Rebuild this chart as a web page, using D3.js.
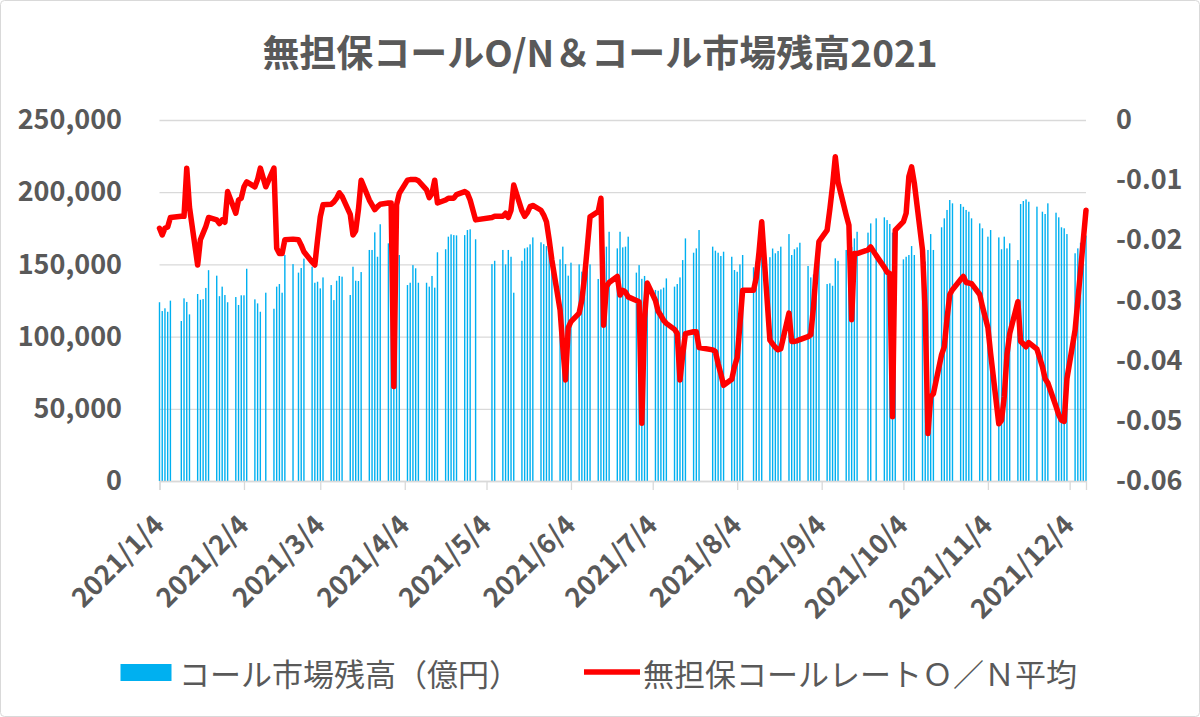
<!DOCTYPE html>
<html>
<head>
<meta charset="utf-8">
<script src="https://cdn.jsdelivr.net/npm/d3@7"></script>
<style>
  body { margin: 0; background: #fff; }
  text { font-family: "Noto Sans CJK JP", "Noto Sans", sans-serif; fill: #595959; }
</style>
</head>
<body>
<div id="chart"></div>
<script>
// business days of 2021 shown on the chart (M/D)
const days = [
  "1/4","1/5","1/6","1/7","1/8","1/12","1/13","1/14","1/15","1/18","1/19","1/20","1/21","1/22","1/25","1/26","1/27","1/28","1/29",
  "2/1","2/2","2/3","2/4","2/5","2/8","2/9","2/10","2/12","2/15","2/16","2/17","2/18","2/19","2/22","2/24","2/25","2/26",
  "3/1","3/2","3/3","3/4","3/5","3/8","3/9","3/10","3/11","3/12","3/15","3/16","3/17","3/18","3/19","3/22","3/23","3/24","3/25","3/26","3/29","3/30","3/31",
  "4/1","4/2","4/5","4/6","4/7","4/8","4/9","4/12","4/13","4/14","4/15","4/16","4/19","4/20","4/21","4/22","4/23","4/26","4/27","4/28","4/30",
  "5/6","5/7","5/10","5/11","5/12","5/13","5/14","5/17","5/18","5/19","5/20","5/21","5/24","5/25","5/26","5/27","5/28","5/31",
  "6/1","6/2","6/3","6/4","6/7","6/8","6/9","6/10","6/11","6/14","6/15","6/16","6/17","6/18","6/21","6/22","6/23","6/24","6/25","6/28","6/29","6/30",
  "7/1","7/2","7/5","7/6","7/7","7/8","7/9","7/12","7/13","7/14","7/15","7/16","7/19","7/20","7/21","7/26","7/27","7/28","7/29","7/30",
  "8/2","8/3","8/4","8/5","8/6","8/10","8/11","8/12","8/13","8/16","8/17","8/18","8/19","8/20","8/23","8/24","8/25","8/26","8/27","8/30","8/31",
  "9/1","9/2","9/3","9/6","9/7","9/8","9/9","9/10","9/13","9/14","9/15","9/16","9/17","9/21","9/22","9/24","9/27","9/28","9/29","9/30",
  "10/1","10/4","10/5","10/6","10/7","10/8","10/11","10/12","10/13","10/14","10/15","10/18","10/19","10/20","10/21","10/22","10/25","10/26","10/27","10/28","10/29",
  "11/1","11/2","11/4","11/5","11/8","11/9","11/10","11/11","11/12","11/15","11/16","11/17","11/18","11/19","11/22","11/24","11/25","11/26","11/29","11/30",
  "12/1","12/2","12/3","12/6","12/7","12/8","12/9","12/10"
];

// コール市場残高（億円）
const balance = [
  123800,117700,119600,117200,124900,110800,126500,124000,115400,129500,125500,126000,133700,146000,142200,128000,134600,128800,123800,
  127400,121900,128600,128600,147000,125800,123000,117200,130400,119300,134600,136400,130400,156500,150200,144300,147500,154000,
  148400,137300,138000,133400,141000,135700,125300,138700,142000,141500,128800,148400,138700,138500,144700,160000,160000,172200,155300,177800,164600,150000,125000,
  140000,156500,135700,137300,149500,147300,137300,137300,134600,142000,133900,158400,160500,169200,170800,170300,170100,170300,173800,174300,167400,
  150200,152500,160000,150000,160000,155300,130400,152500,161100,161800,163900,168700,165300,164000,162700,158000,156000,153500,
  162300,150200,142200,151200,150000,145000,152000,158000,150000,139900,148000,155000,162300,172600,161100,172600,161800,162300,169200,144300,149500,140000,
  142000,134600,132300,131800,132700,133900,140300,134600,136400,141000,153000,168000,158100,161100,173800,162300,159500,158100,155800,158800,
  155300,146100,144900,150000,156500,148000,152000,158000,163000,155000,161000,157700,159300,162300,171000,156500,160500,161800,165000,148900,141000,
  143000,150000,155000,136400,136900,135200,154200,152500,160000,165000,162000,168000,172600,172000,178400,181900,182600,180700,178000,172000,
  160000,153500,155300,156500,162700,156500,150000,152000,160000,171000,160000,175700,181900,187700,194600,192300,191800,189900,187700,186500,181900,
  178400,175000,169200,173800,168700,160500,169200,161100,164600,153000,191800,193900,195000,193400,190000,186500,184900,192300,185800,182600,
  175700,175000,171000,157700,161100,165000,168000,170000
];

// 無担保コールレートO/N平均（%）
const rate = [
  -0.0180,-0.0191,-0.0180,-0.0178,-0.0162,-0.0160,-0.0160,-0.0080,-0.0145,-0.0241,-0.0199,-0.0188,-0.0177,-0.0162,-0.0166,-0.0172,-0.0166,-0.0170,-0.0119,
  -0.0155,-0.0133,-0.0130,-0.0111,-0.0103,-0.0111,-0.0099,-0.0080,-0.0111,-0.0080,-0.0213,-0.0222,-0.0222,-0.0199,-0.0198,-0.0199,-0.0208,-0.0219,
  -0.0236,-0.0241,-0.0199,-0.0161,-0.0141,-0.0140,-0.0136,-0.0130,-0.0121,-0.0127,-0.0157,-0.0191,-0.0184,-0.0149,-0.0100,-0.0133,-0.0141,-0.0149,-0.0144,-0.0140,-0.0138,-0.0138,-0.0443,
  -0.0141,-0.0122,-0.0100,-0.0099,-0.0099,-0.0099,-0.0101,-0.0116,-0.0129,-0.0122,-0.0100,-0.0138,-0.0133,-0.0130,-0.0130,-0.0130,-0.0124,-0.0119,-0.0122,-0.0133,-0.0166,
  -0.0162,-0.0160,-0.0160,-0.0155,-0.0162,-0.0150,-0.0108,-0.0151,-0.0160,-0.0154,-0.0144,-0.0142,-0.0150,-0.0158,-0.0169,-0.0199,-0.0233,-0.0316,
  -0.0377,-0.0432,-0.0345,-0.0335,-0.0321,-0.0299,-0.0260,-0.0211,-0.0161,-0.0152,-0.0130,-0.0341,-0.0277,-0.0270,-0.0260,-0.0291,-0.0283,-0.0286,-0.0294,-0.0300,-0.0302,-0.0504,
  -0.0330,-0.0271,-0.0300,-0.0318,-0.0325,-0.0333,-0.0338,-0.0348,-0.0355,-0.0432,-0.0390,-0.0355,-0.0352,-0.0352,-0.0378,-0.0382,-0.0385,-0.0405,-0.0422,-0.0441,
  -0.0431,-0.0410,-0.0395,-0.0340,-0.0283,-0.0283,-0.0262,-0.0220,-0.0169,-0.0366,-0.0372,-0.0378,-0.0382,-0.0380,-0.0321,-0.0368,-0.0368,-0.0367,-0.0365,-0.0360,-0.0357,
  -0.0310,-0.0250,-0.0202,-0.0183,-0.0148,-0.0109,-0.0061,-0.0103,-0.0158,-0.0175,-0.0332,-0.0222,-0.0222,-0.0216,-0.0211,-0.0225,-0.0245,-0.0253,-0.0255,-0.0493,
  -0.0183,-0.0169,-0.0155,-0.0094,-0.0078,-0.0105,-0.0216,-0.0320,-0.0521,-0.0460,-0.0455,-0.0390,-0.0377,-0.0330,-0.0290,-0.0282,-0.0265,-0.0260,-0.0270,-0.0271,-0.0272,
  -0.0290,-0.0310,-0.0345,-0.0388,-0.0505,-0.0499,-0.0460,-0.0390,-0.0355,-0.0302,-0.0368,-0.0372,-0.0377,-0.0370,-0.0381,-0.0410,-0.0430,-0.0437,-0.0476,-0.0490,
  -0.0499,-0.0501,-0.0430,-0.0349,-0.0300,-0.0250,-0.0200,-0.0150
];

const monthTicks = ["2021/1/4","2021/2/4","2021/3/4","2021/4/4","2021/5/4","2021/6/4",
                    "2021/7/4","2021/8/4","2021/9/4","2021/10/4","2021/11/4","2021/12/4"];
const leftTicks = [0, 50000, 100000, 150000, 200000, 250000];
const rightTicks = [0, -0.01, -0.02, -0.03, -0.04, -0.05, -0.06];

const width = 1200, height = 717;
const plotLeft = 159.5, plotRight = 1086, plotTop = 120, plotBottom = 481;

const svg = d3.select("#chart").append("svg")
    .attr("width", width)
    .attr("height", height);

svg.append("rect")
    .attr("x", 0.5).attr("y", 0.5)
    .attr("width", width - 1).attr("height", height - 1)
    .attr("rx", 4)
    .attr("fill", "#fff")
    .attr("stroke", "#d9d9d9");

const dates = days.map(s => {
  const [m, d] = s.split("/").map(Number);
  return new Date(2021, m - 1, d);
});
const parseTick = d3.timeParse("%Y/%m/%d");

const x = d3.scaleTime()
    .domain([new Date(2021, 0, 4), new Date(2021, 11, 10)])
    .range([plotLeft, plotRight]);
const y = d3.scaleLinear().domain([0, 250000]).range([plotBottom, plotTop]);
const y2 = d3.scaleLinear().domain([-0.06, 0]).range([plotBottom, plotTop]);

// gridlines
svg.append("g")
    .attr("transform", `translate(${plotLeft},0)`)
    .call(d3.axisLeft(y).tickValues(leftTicks).tickSize(-(plotRight - plotLeft)).tickFormat(""))
    .call(g => g.select(".domain").remove())
    .call(g => g.selectAll("line").attr("stroke", "#d9d9d9").attr("stroke-width", 1.3));

// bars
svg.append("g")
    .selectAll("rect")
    .data(balance)
    .join("rect")
    .attr("x", (d, i) => x(dates[i]) - 0.7)
    .attr("width", 1.4)
    .attr("y", d => y(d))
    .attr("height", d => plotBottom - y(d))
    .attr("fill", "#00B0F0");

// x axis
svg.append("g")
    .attr("transform", `translate(0,${plotBottom})`)
    .call(d3.axisBottom(x)
        .tickValues(monthTicks.map(parseTick))
        .tickSize(9)
        .tickFormat((d, i) => monthTicks[i]))
    .call(g => g.select(".domain").attr("stroke", "#d9d9d9").attr("stroke-width", 1.3))
    .call(g => g.selectAll(".tick line").attr("stroke", "#d9d9d9").attr("stroke-width", 1.3))
    .call(g => g.selectAll(".tick text")
        .attr("x", 0).attr("y", 0).attr("dy", "0.35em")
        .attr("transform", "translate(-1,39) rotate(-45)")
        .attr("text-anchor", "end")
        .attr("font-size", 27)
        .attr("font-weight", "bold")
        .attr("fill", "#595959"));

// left axis
svg.append("g")
    .attr("transform", "translate(122,0)")
    .call(d3.axisLeft(y).tickValues(leftTicks).tickSize(0).tickPadding(0).tickFormat(d3.format(",")))
    .call(g => g.select(".domain").remove())
    .call(g => g.selectAll("text")
        .attr("font-size", 27).attr("font-weight", "bold").attr("fill", "#595959"));

// right axis
svg.append("g")
    .attr("transform", "translate(1116,0)")
    .call(d3.axisRight(y2).tickValues(rightTicks).tickSize(0).tickPadding(0)
        .tickFormat(d => d === 0 ? "0" : d.toFixed(2)))
    .call(g => g.select(".domain").remove())
    .call(g => g.selectAll("text")
        .attr("font-size", 27).attr("font-weight", "bold").attr("fill", "#595959"));

// rate line
const line = d3.line()
    .x((d, i) => x(dates[i]))
    .y(d => y2(d));

svg.append("path")
    .datum(rate)
    .attr("d", line)
    .attr("fill", "none")
    .attr("stroke", "#FF0000")
    .attr("stroke-width", 5.5)
    .attr("stroke-linejoin", "round")
    .attr("stroke-linecap", "round");

// title
svg.append("text")
    .attr("x", 600).attr("y", 51)
    .attr("text-anchor", "middle")
    .attr("dominant-baseline", "central")
    .attr("font-size", 37)
    .attr("font-weight", "bold")
    .text("無担保コールO/N＆コール市場残高2021");

// legend
svg.append("rect")
    .attr("x", 120.5).attr("y", 664)
    .attr("width", 51).attr("height", 17)
    .attr("fill", "#00B0F0");
svg.append("text")
    .attr("x", 179).attr("y", 672)
    .attr("dominant-baseline", "central")
    .attr("font-size", 31)
    .text("コール市場残高（億円）");
svg.append("line")
    .attr("x1", 584).attr("x2", 640)
    .attr("y1", 672).attr("y2", 672)
    .attr("stroke", "#FF0000")
    .attr("stroke-width", 5.5);
svg.append("text")
    .attr("x", 643).attr("y", 672)
    .attr("dominant-baseline", "central")
    .attr("font-size", 31)
    .text("無担保コールレートＯ／Ｎ平均");
</script>
</body>
</html>
